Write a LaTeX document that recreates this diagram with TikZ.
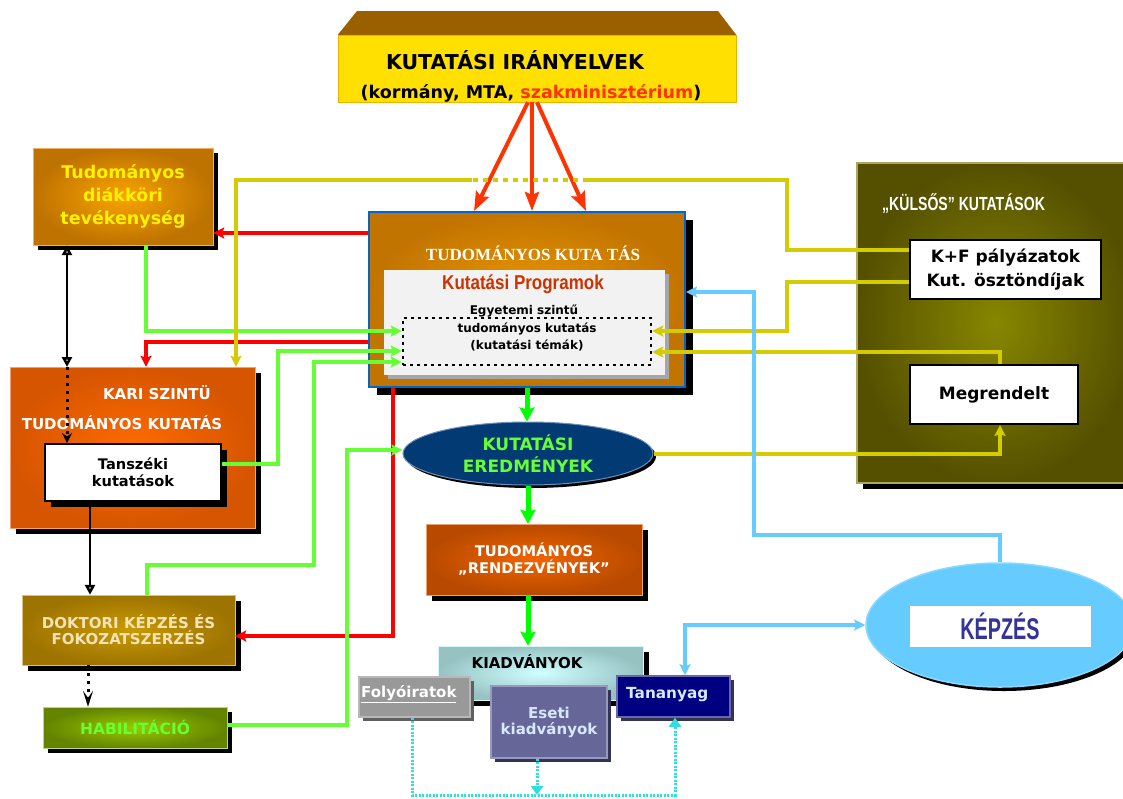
\documentclass[tikz,border=0pt]{standalone}
\usepackage{fontspec}
\setmainfont{DejaVu Sans}
\newfontfamily\timesfont{Liberation Serif}
\newfontfamily\arialfont{Liberation Sans}
\usetikzlibrary{shapes.geometric, shadows, arrows.meta}

\definecolor{irYellow}{HTML}{FFE000}
\definecolor{irEdge}{HTML}{F0B000}
\definecolor{irTop}{HTML}{9A6000}
\definecolor{redTop}{HTML}{FF3300}
\definecolor{redLine}{HTML}{FF0000}
\definecolor{greenLine}{HTML}{66FF33}
\definecolor{greenMain}{HTML}{00FF00}
\definecolor{yelLine}{HTML}{D4CC00}
\definecolor{blueLine}{HTML}{66CCFF}
\definecolor{cyanDot}{HTML}{33DDDD}
\definecolor{kutIn}{HTML}{EC9800}
\definecolor{kutOut}{HTML}{C27400}
\definecolor{kutEdge}{HTML}{0066CC}
\definecolor{progFill}{HTML}{F2F2F2}
\definecolor{progRed}{HTML}{CC3300}
\definecolor{tdkIn}{HTML}{F9A400}
\definecolor{tdkOut}{HTML}{BE7200}
\definecolor{tdkEdge}{HTML}{F0B060}
\definecolor{kariIn}{HTML}{FF6A00}
\definecolor{kariOut}{HTML}{D65500}
\definecolor{kariEdge}{HTML}{F5A070}
\definecolor{dokIn}{HTML}{C89A00}
\definecolor{dokOut}{HTML}{9E7400}
\definecolor{dokEdge}{HTML}{D8C080}
\definecolor{dokText}{HTML}{F5E2B8}
\definecolor{habIn}{HTML}{99CC00}
\definecolor{habOut}{HTML}{648400}
\definecolor{habEdge}{HTML}{C0D870}
\definecolor{eredFill}{HTML}{023B73}
\definecolor{eredEdge}{HTML}{6A8FB8}
\definecolor{rendIn}{HTML}{F06400}
\definecolor{rendOut}{HTML}{B84A00}
\definecolor{rendEdge}{HTML}{F0A070}
\definecolor{kiadIn}{HTML}{D0FFFF}
\definecolor{kiadOut}{HTML}{96C2C2}
\definecolor{kiadEdge}{HTML}{D8F8F8}
\definecolor{folyoFill}{HTML}{999999}
\definecolor{folyoEdge}{HTML}{B8B8B8}
\definecolor{folyoShadow}{HTML}{606060}
\definecolor{esetiFill}{HTML}{666699}
\definecolor{esetiEdge}{HTML}{9999BB}
\definecolor{esetiText}{HTML}{D8E8FF}
\definecolor{esetiShadow}{HTML}{333355}
\definecolor{tanFill}{HTML}{000080}
\definecolor{tanEdge}{HTML}{6666AA}
\definecolor{kulsIn}{HTML}{878700}
\definecolor{kulsOut}{HTML}{555000}
\definecolor{kulsEdge}{HTML}{A8A860}
\definecolor{kepEdge}{HTML}{88D8FF}
\definecolor{kepText}{HTML}{333399}

\newcommand{\txtsize}[2]{\fontsize{#1}{#2}\selectfont}
\newcommand{\narrow}[2][0.75]{\scalebox{#1}[1]{#2}}

\begin{document}
\begin{tikzpicture}[x=1pt, y=-1pt,
		box/.style={rectangle, inner sep=0pt, align=center, font=\bfseries},
		shadowed/.style={drop shadow={shadow xshift=#1, shadow yshift=-#1, fill=black, opacity=1}},
		shadowed/.default=6pt,
		greytip/.tip={Stealth[length=11pt, width=11pt, inset=2pt]}
	]
	\useasboundingbox (0,0) rectangle (1123,798);

	% felso doboz
	\node[box, fill=irYellow, draw=irEdge, minimum width=398, minimum height=67] (irany) at (537,68.5) {};
	\fill[irTop] (irany.north west) -- (357,11) -- (718,11) -- (irany.north east) -- cycle;
	\node[box, font=\bfseries\txtsize{20.5}{24}] (iranyCim) at (515,60) {KUTATÁSI IRÁNYELVEK};
	\node[box, font=\bfseries\txtsize{17.5}{20}] (iranyAl) at (531,93) {(kormány, MTA, \textcolor{redTop}{szakminisztérium})};

	% kozponti doboz
	\node[box, inner color=kutIn, outer color=kutOut, draw=kutEdge, line width=2pt, minimum width=316, minimum height=175, shadowed=8pt] (kut) at (527,299.5) {};
	\node[box, text=white, font=\timesfont\bfseries\txtsize{17}{20}] (kutCim) at (533,253) {TUDOMÁNYOS KUTA TÁS};
	\node[box, fill=progFill, minimum width=281, minimum height=105, drop shadow={shadow xshift=4pt, shadow yshift=-4pt, fill=gray!70, opacity=1}] (prog) at (524.5,322.5) {};
	\node[box, text=progRed, font=\arialfont\bfseries\txtsize{20}{24}] (progCim) at (523,284) {\narrow[0.85]{Kutatási Programok}};
	\node[box, font=\bfseries\txtsize{12}{14}] (egyetem) at (524,311) {Egyetemi szintű};
	\node[box, draw, line width=2.5pt, dash pattern=on 3pt off 4pt, minimum width=248, minimum height=47] (temak) at (527,341.5) {};
	\node[box, font=\bfseries\txtsize{12}{17}] (temakTxt) at (527,337) {tudományos kutatás\\(kutatási témák)};

	% bal oldal
	\node[box, inner color=tdkIn, outer color=tdkOut, draw=tdkEdge, minimum width=180, minimum height=97, shadowed=5pt, text=yellow, font=\bfseries\txtsize{17.5}{23}] (tdk) at (123,196.5) {Tudományos\\diákköri\\tevékenység};
	\node[box, inner color=kariIn, outer color=kariOut, draw=kariEdge, minimum width=245, minimum height=161, shadowed] (kari) at (132.5,447.5) {};
	\node[box, text=white, font=\bfseries\txtsize{15}{17}] (kariCim1) at (157,393) {KARI SZINTÜ};
	\node[box, text=white, font=\bfseries\txtsize{15}{17}] (kariCim2) at (122,423) {TUDOMÁNYOS KUTATÁS};
	\node[box, fill=white, draw=black, line width=2pt, minimum width=176, minimum height=57, shadowed, font=\bfseries\txtsize{14.6}{17}] (tansz) at (133,472.5) {Tanszéki\\kutatások};
	\node[box, inner color=dokIn, outer color=dokOut, draw=dokEdge, minimum width=213, minimum height=70, shadowed, text=dokText, font=\bfseries\txtsize{15}{16}] (doktor) at (128.5,630) {DOKTORI KÉPZÉS ÉS\\FOKOZATSZERZÉS};
	\node[box, inner color=habIn, outer color=habOut, draw=habEdge, minimum width=184, minimum height=41, shadowed=5pt, text=greenLine, font=\bfseries\txtsize{15.5}{17}] (habil) at (135,727.5) {HABILITÁCIÓ};

	% kozep
	\node[ellipse, inner sep=0pt, align=center, fill=eredFill, draw=eredEdge, line width=1pt, minimum width=250, minimum height=63, shadowed=3pt, text=greenLine, font=\bfseries\txtsize{17}{22}] (ered) at (528,453.5) {KUTATÁSI\\EREDMÉNYEK};
	\node[box, inner color=rendIn, outer color=rendOut, draw=rendEdge, minimum width=216, minimum height=71, shadowed, text=white, font=\bfseries\txtsize{14.7}{17}] (rendez) at (534,559.5) {TUDOMÁNYOS\\„RENDEZVÉNYEK”};
	\node[box, inner color=kiadIn, outer color=kiadOut, draw=kiadEdge, minimum width=205, minimum height=54, shadowed] (kiadv) at (540.5,673) {};
	\node[box, font=\bfseries\txtsize{15}{17}] (kiadvCim) at (527,662) {KIADVÁNYOK};
	\node[box, fill=folyoFill, draw=folyoEdge, line width=1.5pt, minimum width=111, minimum height=40, drop shadow={shadow xshift=4pt, shadow yshift=-4pt, fill=folyoShadow, opacity=1}] (folyo) at (414.5,697) {};
	\node[box, anchor=west, text=white, font=\bfseries\txtsize{15}{17}] (folyoTxt) at (361,694) {\underline{Folyóiratok}};
	\node[box, fill=esetiFill, draw=esetiEdge, line width=1.5pt, minimum width=116, minimum height=72, drop shadow={shadow xshift=4pt, shadow yshift=-4pt, fill=esetiShadow, opacity=1}, text=esetiText, font=\bfseries\txtsize{15}{16}] (eseti) at (549,722) {Eseti\\kiadványok};
	\node[box, fill=tanFill, draw=tanEdge, line width=1.5pt, minimum width=113, minimum height=41, drop shadow={shadow xshift=4pt, shadow yshift=-4pt, fill=esetiShadow, opacity=1}] (tanany) at (673.5,696.5) {};
	\node[box, anchor=west, text=esetiText, font=\bfseries\txtsize{15.3}{17}] (tananyTxt) at (626,695) {Tananyag};

	% jobb oldal
	\node[box, inner color=kulsIn, outer color=kulsOut, draw=kulsEdge, line width=1.5pt, minimum width=278, minimum height=320, shadowed] (kulsos) at (996,323) {};
	\node[box, anchor=west, text=white, font=\arialfont\bfseries\txtsize{19}{22}] (kulsosCim) at (882,204) {\narrow[0.74]{„KÜLSŐS” KUTATÁSOK}};
	\node[box, fill=white, draw=black, line width=2pt, minimum width=191, minimum height=59, font=\bfseries\txtsize{17}{24}] (kf) at (1005.5,269.5) {K+F pályázatok\\Kut. ösztöndíjak};
	\node[box, fill=white, draw=black, line width=2pt, minimum width=168, minimum height=59, font=\bfseries\txtsize{17}{19}] (megr) at (994,394.5) {Megrendelt};
	\node[ellipse, inner sep=0pt, fill=blueLine, draw=kepEdge, line width=1.5pt, minimum width=268, minimum height=124, shadowed=4pt] (kepzes) at (1000,625) {};
	\node[box, fill=white, minimum width=181, minimum height=41, text=kepText, font=\arialfont\bfseries\txtsize{30}{32}] (kepzesTxt) at (1000,626.5) {\narrow[0.66]{KÉPZÉS}};

	% iranyelvek nyilai
	\begin{scope}[redTop, line width=4pt, -{Stealth[length=19pt, width=14pt, inset=3pt]}]
		\draw ([xshift=-9pt]irany.south) -- ([xshift=-53pt]kut.north);
		\draw ([xshift=-5pt]irany.south) -- ([xshift=5pt]kut.north);
		\draw (irany.south) -- ([xshift=59pt]kut.north);
	\end{scope}

	\begin{scope}[greenMain, line width=5pt, -{Stealth[length=14pt, width=15pt, inset=2pt]}]
		\draw (kut.south) -- (kut.south |- ered.north);
		\draw (ered.south) -- (ered.south |- rendez.north);
		\draw (ered.south |- rendez.south) -- (ered.south |- kiadv.north);
	\end{scope}

	\begin{scope}[redLine, line width=4pt, -greytip]
		\draw (kut.west |- 0,233) -- (tdk.east |- 0,233);
		\draw (kut.west |- 0,342) -| (kari.north -| 146,0);
		\draw (kut.south -| 393,0) |- (doktor.east |- 0,636);
	\end{scope}

	\begin{scope}[greenLine, line width=4pt, -greytip]
		\draw (tdk.south -| 146,0) |- (temak.west |- 0,331);
		\draw (tansz.east |- 0,464) -| (278,351) -- (temak.west |- 0,351);
		\draw (doktor.north -| 147,0) |- (314,565) |- (temak.west |- 0,362);
		\draw (habil.east |- 0,725) -| (347,450) -- (ered.west |- 0,450);
	\end{scope}

	\coordinate (sargaA) at (588,180);
	\coordinate (sargaB) at (472,180);
	\begin{scope}[yelLine, line width=3.5pt]
		\draw (kf.west |- 0,250) -| (787,180) -- (sargaA);
		\draw[dash pattern=on 5pt off 5pt] (sargaA) -- (sargaB);
		\draw[-greytip] (sargaB) -| (kari.north -| 236,0);
		\draw[-greytip] (kf.west |- 0,282) -| (787,331) -- (temak.east |- 0,331);
		\draw[-greytip] (megr.north -| 1000,0) |- (temak.east |- 0,352);
		\draw[-greytip] (ered.east |- 0,454) -| (megr.south -| 1000,0);
	\end{scope}

	\begin{scope}[blueLine, line width=3.5pt]
		\draw[-greytip] (kepzes.north) |- (754,535) |- (kut.east |- 0,292);
		\draw[greytip-greytip] (tanany.north -| 685,0) |- (kepzes.west);
	\end{scope}

	% fekete nyilak
	\coordinate (kariBe) at (67,367);
	\draw[line width=2.5pt, {Triangle[open, length=10pt, width=10pt]}-{Triangle[open, length=10pt, width=10pt]}] (tdk.south -| kariBe) -- (kariBe);
	\draw[line width=3pt, dash pattern=on 3pt off 5pt, -{Stealth[length=10pt, width=10pt]}] (kariBe) -- (tansz.north -| kariBe);
	\draw[line width=2.5pt, -{Triangle[open, length=10pt, width=10pt]}] (tansz.south -| 90,0) -- (doktor.north -| 90,0);
	\draw[line width=3pt, dash pattern=on 3pt off 5pt, -{Stealth[length=16pt, width=10pt, inset=7pt]}] (doktor.south -| 88,0) -- (habil.north -| 88,0);

	\begin{scope}[cyanDot, line width=3pt, dash pattern=on 2pt off 1.5pt, -{Triangle[length=9pt, width=12pt]}]
		\draw (folyo.south -| 412,0) |- (675,795) -- (tanany.south -| 675,0);
		\draw (eseti.south -| 537,0) -- (537,795);
	\end{scope}
\end{tikzpicture}
\end{document}
